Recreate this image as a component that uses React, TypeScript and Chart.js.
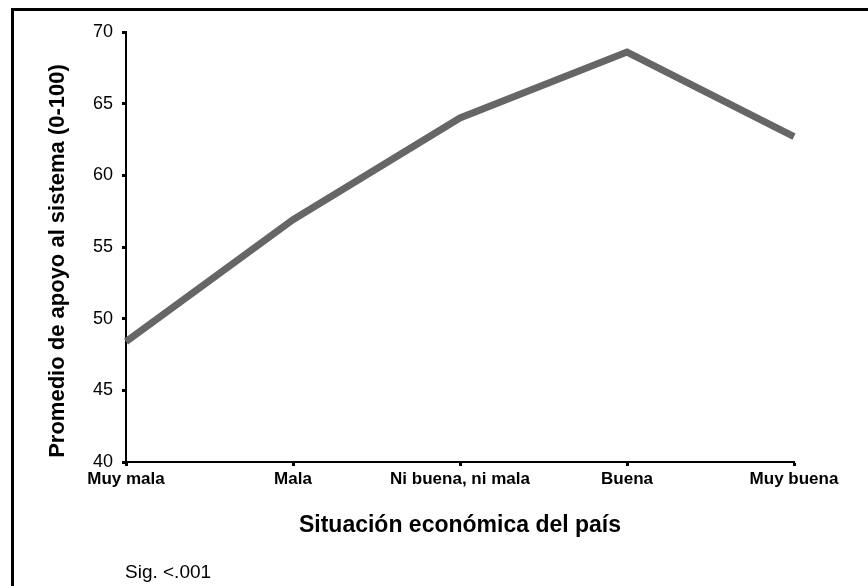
import React, { useEffect, useRef } from "react";
import { Chart, registerables } from "chart.js";

Chart.register(...registerables);

const categories = ["Muy mala", "Mala", "Ni buena, ni mala", "Buena", "Muy buena"];
const supportValues = [48.4, 56.9, 64.0, 68.6, 62.7];
const yTickValues = [40, 45, 50, 55, 60, 65, 70];
const yTitle = "Promedio de apoyo al sistema (0-100)";
const xTitle = "Situación económica del país";
const noteText = "Sig. <.001";

const FONT = '"Liberation Sans", Arial, Helvetica, sans-serif';

const framePlugin = {
  id: "frameAndNote",
  beforeDraw(chart: any) {
    const ctx = chart.ctx;
    ctx.save();
    ctx.fillStyle = "#ffffff";
    ctx.fillRect(0, 0, chart.width, chart.height);
    ctx.fillStyle = "#000000";
    ctx.fillRect(11, 8, 3, chart.height);
    ctx.fillRect(11, 8, chart.width, 3);
    ctx.restore();
  },
  afterDraw(chart: any) {
    const ctx = chart.ctx;
    ctx.save();
    ctx.fillStyle = "#000000";
    ctx.font = `19px ${FONT}`;
    ctx.textAlign = "left";
    ctx.textBaseline = "alphabetic";
    ctx.fillText(noteText, 125, 578);
    // y-axis title
    ctx.translate(58, 261);
    ctx.rotate(-Math.PI / 2);
    ctx.font = `bold 22px ${FONT}`;
    ctx.textAlign = "center";
    ctx.textBaseline = "middle";
    ctx.fillText(yTitle, 0, 0);
    ctx.restore();
  },
};

export default function App() {
  const canvasRef = useRef<HTMLCanvasElement | null>(null);

  useEffect(() => {
    if (!canvasRef.current) return;
    const chart = new Chart(canvasRef.current, {
      type: "line",
      data: {
        labels: categories,
        datasets: [
          {
            data: supportValues,
            borderColor: "#666666",
            borderWidth: 7,
            pointRadius: 0,
            pointHoverRadius: 0,
            tension: 0,
            fill: false,
            borderJoinStyle: "miter",
            borderCapStyle: "butt",
          },
        ],
      },
      options: {
        animation: false,
        responsive: false,
        events: [],
        layout: { padding: { left: 20, right: 74, top: 32, bottom: 0 } },
        plugins: {
          legend: { display: false },
          tooltip: { enabled: false },
          title: { display: false },
        },
        scales: {
          x: {
            type: "category",
            offset: false,
            grid: {
              display: true,
              drawOnChartArea: false,
              drawTicks: true,
              tickLength: 4,
              tickWidth: 3,
              tickColor: "#000000",
            },
            border: { display: true, color: "#000000", width: 2 },
            ticks: {
              color: "#000000",
              font: { family: FONT, size: 17, weight: "bold" },
              padding: 3,
              maxRotation: 0,
              autoSkip: false,
            },
            title: {
              display: true,
              text: xTitle,
              color: "#000000",
              font: { family: FONT, size: 23, weight: "bold" },
              padding: { top: 0, bottom: 47 },
              align: "center",
            },
            afterFit(scale: any) {
              scale.height = 124;
              scale.paddingLeft = 0;
              scale.paddingRight = 0;
            },
          },
          y: {
            min: 40,
            max: 70,
            grid: {
              display: true,
              drawOnChartArea: false,
              drawTicks: true,
              tickLength: 4,
              tickWidth: 3,
              tickColor: "#000000",
            },
            border: { display: true, color: "#000000", width: 2 },
            ticks: {
              color: "#000000",
              font: { family: FONT, size: 18 },
              padding: 9,
            },
            afterBuildTicks(scale: any) {
              scale.ticks = yTickValues.map((v) => ({ value: v }));
            },
            title: { display: false },
            afterFit(scale: any) {
              scale.width = 106;
              scale.paddingTop = 0;
              scale.paddingBottom = 0;
            },
          },
        },
      },
      plugins: [framePlugin],
    } as any);
    return () => chart.destroy();
  }, []);

  return (
    <div style={{ position: "fixed", left: 0, top: 0, width: 868, height: 586, background: "#fff" }}>
      <canvas ref={canvasRef} width={868} height={586} style={{ display: "block" }} />
    </div>
  );
}
